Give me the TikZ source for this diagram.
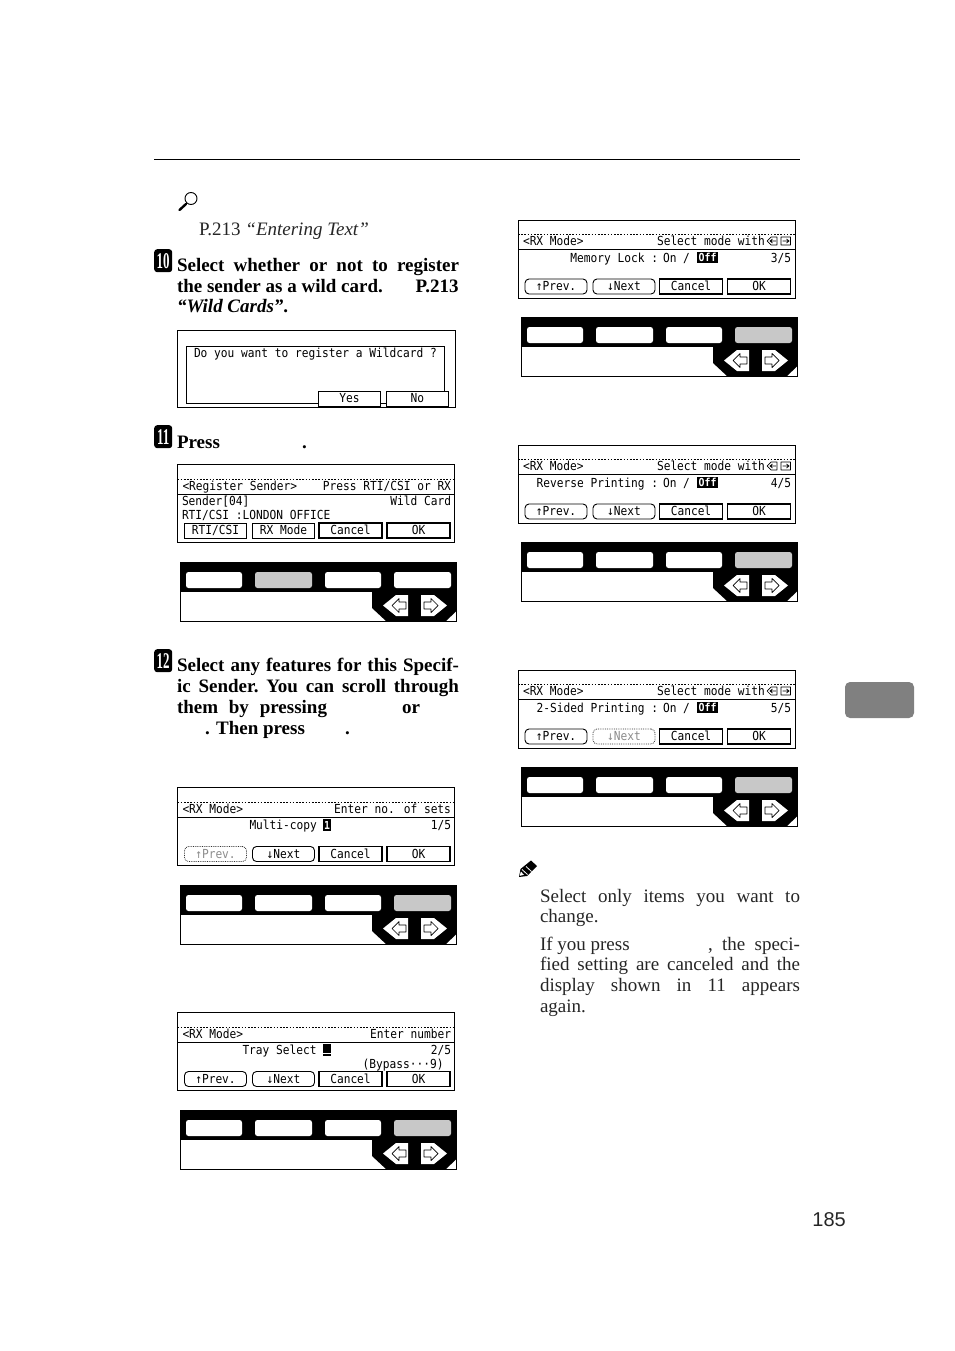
\documentclass[tikz,border=0pt]{standalone}
\usepackage{fontspec}
\setmainfont{Liberation Serif}
\newfontfamily\lcdf[FakeStretch=0.9]{DejaVu Sans Mono}
\newfontfamily\pagef{Liberation Sans}
\newcommand{\lcdfont}{\lcdf\fontsize{12.45}{13}\selectfont}
\newcommand{\jline}[2]{\hbox to #1pt{\frenchspacing\spaceskip=.25em plus 1fil minus .12em #2}}
\definecolor{tabgray}{HTML}{808080}
\definecolor{keyon}{HTML}{C8C8C8}
\tikzset{
  x=1pt,y=-1pt,
  body/.style={anchor=base west,inner sep=0pt,outer sep=0pt,text=black!85,font=\fontsize{19}{21}\selectfont},
  bodyb/.style={body,text=black,font=\fontsize{19}{21}\selectfont\bfseries},
  lt/.style={anchor=base west,inner sep=0pt,outer sep=0pt,font=\lcdfont},
  rt/.style={anchor=base east,inner sep=0pt,outer sep=0pt,font=\lcdfont},
  lcdframe/.style={draw=black,line width=1pt,fill=white},
  btnbase/.style={anchor=north west,inner sep=0pt,outer sep=0pt,font=\lcdfont,minimum height=15pt,text height=9pt,text depth=1pt},
  btnround/.style={btnbase,draw=black,line width=.9pt,rounded corners=4pt,minimum width=62pt},
  btnoff/.style={btnbase,draw=black!80,densely dotted,line width=.8pt,rounded corners=4pt,minimum width=62pt,text=black!45},
  btnthick/.style={btnbase,draw=black,line width=1.6pt,minimum width=63pt},
  btnthin/.style={btnbase,draw=black,line width=.9pt,minimum width=62pt},
  keycap/.style={rounded corners=2.5pt},
  stepbadge/.style={fill=black,rounded corners=3pt,text=white,inner sep=0pt,minimum width=18pt,minimum height=23pt,anchor=north west,font=\fontsize{18}{18}\selectfont\bfseries},
  inv/.style={fill=black,text=white,inner sep=0pt,anchor=north west,font=\lcdf\bfseries\fontsize{11}{11}\selectfont},
}
% key panel: x, y, colour of key 2, colour of key 4
\newcommand{\kpanel}[4]{%
  \begin{scope}[shift={(#1,#2)}]
    \fill[white] (0,0) rectangle (276.5,59);
    \fill[black] (0,0) rectangle (276.5,30);
    \fill[black] (192,30) -- (192,46) -- (206,59) -- (266,59) -- (276.5,49) -- (276.5,30) -- cycle;
    \draw[black,line width=1pt] (0,0) rectangle (276.5,59);
    \fill[white,keycap] (6,10) rectangle (62,26);
    \fill[#3,keycap] (75,10) rectangle (132,26);
    \fill[white,keycap] (145,10) rectangle (201,26);
    \fill[#4,keycap] (214,10) rectangle (271,26);
    \fill[white] (203,43.5) -- (216,33) -- (228,33) -- (228,54) -- (216,54) -- cycle;
    \fill[white] (241,33) -- (254,33) -- (267,43.5) -- (254,54) -- (241,54) -- cycle;
    \draw[black,line width=.7pt,line join=round] (212,43.5) -- (219,36.5) -- (219,40) -- (226,40) -- (226,47) -- (219,47) -- (219,50.5) -- cycle;
    \draw[black,line width=.7pt,line join=round] (258,43.5) -- (251,36.5) -- (251,40) -- (244,40) -- (244,47) -- (251,47) -- (251,50.5) -- cycle;
  \end{scope}}
% LCD frame with header rules
\newcommand{\lcdbox}[3]{%
  \begin{scope}[shift={(#1,#2)}]
    \draw[lcdframe] (0,0) rectangle (277,78);
    \draw[black,line width=.8pt,dash pattern=on 1.6pt off 1.6pt] (0,14.5) -- (277,14.5);
    \draw[black,line width=1pt] (0,29.5) -- (277,29.5);
    #3
  \end{scope}}
\newcommand{\selhead}[1]{%
    \node[lt] (#1h) at (5,25.5) {<RX Mode>};
    \node[lt] (#1s) at (139,25.5) {Select mode with};
    \draw[black,line width=.7pt,line join=round] (249,21) -- (253,17) -- (259,17) -- (259,25) -- (253,25) -- cycle (263,17) rectangle (272.5,25);
    \draw[black,line width=.7pt] (252,21) -- (258,21) (254.5,19) -- (252,21) -- (254.5,23);
    \draw[black,line width=.7pt] (264.5,21) -- (271,21) (268.5,19) -- (271,21) -- (268.5,23);}
\newcommand{\offtag}[1]{\node[inv,minimum width=21.5pt,minimum height=11.5pt] (#1) at (178.7,31.7) {Off};}
\newcommand{\prevtxt}{↑Prev.}
\newcommand{\nexttxt}{↓Next}
\begin{document}
\begin{tikzpicture}
\useasboundingbox (0,0) rectangle (954,1351);
\fill[white] (0,0) rectangle (954,1351);
\draw[black,line width=1pt] (154,159.5) -- (800,159.5);

% magnifier
\draw[black,line width=.9pt] (191,198.5) circle (6);
\draw[black,line width=2.4pt,line cap=round] (186,204) -- (179.5,210);
\node[body] (ref1) at (199,235) {P.213 \textit{“Entering Text”}};

% step 10
\node[stepbadge] (s10) at (154,249) {\scalebox{.72}[1.25]{10}};
\node[bodyb] (a1) at (177,271.5) {\jline{282}{Select whether or not to register}};
\node[bodyb] (a2) at (177,292) {the sender as a wild card.};
\node[bodyb] (a2b) at (415.5,292) {P.213};
\node[bodyb] (a3) at (177,312) {\textit{“Wild Cards”}.};

% wildcard dialog
\draw[lcdframe] (177.5,330) rectangle (455,407);
\draw[black,line width=.9pt] (186,346) rectangle (444.7,403);
\node[lt] (wq) at (194,357.5) {Do you want to register a Wildcard ?};
\node[btnthin,fill=white,minimum width=62.4pt,minimum height=14.6pt] (wy) at (318.3,391.4) {Yes};
\node[btnthin,fill=white,minimum width=62.6pt,minimum height=14.6pt] (wn) at (386,391.4) {No};

% step 11
\node[stepbadge] (s11) at (154,425) {\scalebox{.72}[1.25]{11}};
\node[bodyb] (b1) at (177,448) {Press};
\node[bodyb] (b1d) at (302,448) {.};

\lcdbox{177.5}{464.5}{%
  \node[lt] (rh) at (5,25.5) {<Register Sender>};
  \node[rt] (rs) at (273.5,25.5) {Press RTI/CSI or RX};
  \node[lt] (r1) at (4.5,41) {Sender[04]};
  \node[rt] (r2) at (273.5,41) {Wild Card};
  \node[lt] (r3) at (4.5,55) {RTI/CSI :LONDON OFFICE};
  \node[btnthin] (rb1) at (7,58.5) {RTI/CSI};
  \node[btnthin] (rb2) at (75,58.5) {RX Mode};
  \node[btnthick] (rb3) at (141.5,58.5) {Cancel};
  \node[btnthick] (rb4) at (209.5,58.5) {OK};
}
\kpanel{180}{562}{keyon}{white}

% step 12
\node[stepbadge] (s12) at (154,649) {\scalebox{.72}[1.25]{12}};
\node[bodyb] (c1) at (177,671) {\jline{282}{Select any features for this Specif-}};
\node[bodyb] (c2) at (177,692) {\jline{282}{ic Sender. You can scroll through}};
\node[bodyb] (c3) at (177,713) {\jline{150}{them by pressing}};
\node[bodyb] (c3b) at (402,713) {or};
\node[bodyb] (c4) at (205,734) {. Then press};
\node[bodyb] (c4d) at (345,734) {.};

% multi-copy
\lcdbox{177.5}{787.5}{%
  \node[lt] (mh) at (5,25.5) {<RX Mode>};
  \node[rt] (ms) at (273.5,25.5) {Enter no. of sets};
  \node[lt] (m1) at (72,42) {Multi-copy};
  \node[inv,minimum width=8pt,minimum height=11.5pt] (mi) at (145.5,31.7) {1};
  \node[rt] (m2) at (273.5,42) {1/5};
  \node[btnoff] (mb1) at (7,59) {↑Prev.};
  \node[btnround] (mb2) at (75,59) {\nexttxt};
  \node[btnthick] (mb3) at (141.5,59) {Cancel};
  \node[btnthick] (mb4) at (209.5,59) {OK};
}
\kpanel{180}{885}{white}{keyon}

% tray select
\lcdbox{177.5}{1012.5}{%
  \node[lt] (th) at (5,25.5) {<RX Mode>};
  \node[rt] (ts) at (273.5,25.5) {Enter number};
  \node[lt] (t1) at (65,42) {Tray Select};
  \fill[black] (145.5,31.7) rectangle (153.5,40);
  \fill[black] (145.5,41.2) rectangle (153.5,43);
  \node[rt] (t2) at (273.5,42) {2/5};
  \node[rt] (t3) at (266,55.5) {(Bypass···9)};
  \node[btnround] (tb1) at (7,59) {\prevtxt};
  \node[btnround] (tb2) at (75,59) {\nexttxt};
  \node[btnthick] (tb3) at (141.5,59) {Cancel};
  \node[btnthick] (tb4) at (209.5,59) {OK};
}
\kpanel{180}{1110}{white}{keyon}

% memory lock
\lcdbox{518}{220}{%
  \selhead{a}
  \node[rt] (al) at (140,42) {Memory Lock :};
  \node[lt] (ao) at (145,42) {On /};
  \offtag{af}
  \node[rt] (an) at (273,42) {3/5};
  \node[btnround] (ab1) at (7,59) {\prevtxt};
  \node[btnround] (ab2) at (75,59) {\nexttxt};
  \node[btnthick] (ab3) at (141.5,59) {Cancel};
  \node[btnthick] (ab4) at (209.5,59) {OK};
}
\kpanel{521}{317}{white}{keyon}

% reverse printing
\lcdbox{518}{445}{%
  \selhead{b}
  \node[rt] (bl) at (140,42) {Reverse Printing :};
  \node[lt] (bo) at (145,42) {On /};
  \offtag{bf}
  \node[rt] (bn) at (273,42) {4/5};
  \node[btnround] (bb1) at (7,59) {\prevtxt};
  \node[btnround] (bb2) at (75,59) {\nexttxt};
  \node[btnthick] (bb3) at (141.5,59) {Cancel};
  \node[btnthick] (bb4) at (209.5,59) {OK};
}
\kpanel{521}{542}{white}{keyon}

% two-sided printing
\lcdbox{518}{670}{%
  \selhead{d}
  \node[rt] (dl) at (140,42) {2-Sided Printing :};
  \node[lt] (do) at (145,42) {On /};
  \offtag{df}
  \node[rt] (dn) at (273,42) {5/5};
  \node[btnround] (db1) at (7,59) {\prevtxt};
  \node[btnoff] (db2) at (75,59) {↓Next};
  \node[btnthick] (db3) at (141.5,59) {Cancel};
  \node[btnthick] (db4) at (209.5,59) {OK};
}
\kpanel{521}{767}{white}{keyon}

% gray side tab
\fill[tabgray,rounded corners=5pt] (845,682) rectangle (914,718);

% note pencil
\fill[black] (519,877) -- (520.5,869) -- (531,860.5) -- (537,866) -- (527,876) -- cycle;
\draw[white,line width=.8pt] (522,869.5) -- (527.5,874.5) (526,866.5) -- (531.5,871.5);
\fill[white] (519.8,875.8) -- (520.8,871.5) -- (524,874.8) -- cycle;

% note text
\node[body] (n1) at (540,902) {\jline{260}{Select only items you want to}};
\node[body] (n2) at (540,922.5) {change.};
\node[body] (n3) at (540,950.5) {If you press};
\node[body] (n3b) at (708,950.5) {\jline{92}{, the speci-}};
\node[body] (n4) at (540,970.5) {\jline{260}{fied setting are canceled and the}};
\node[body] (n5) at (540,991) {\jline{260}{display shown in 11 appears}};
\node[body] (n6) at (540,1012) {again.};

% page number
\node[anchor=base east,inner sep=0pt,font=\pagef\fontsize{20}{22}\selectfont,text=black!85] (pg) at (846,1226) {185};
\end{tikzpicture}
\end{document}
